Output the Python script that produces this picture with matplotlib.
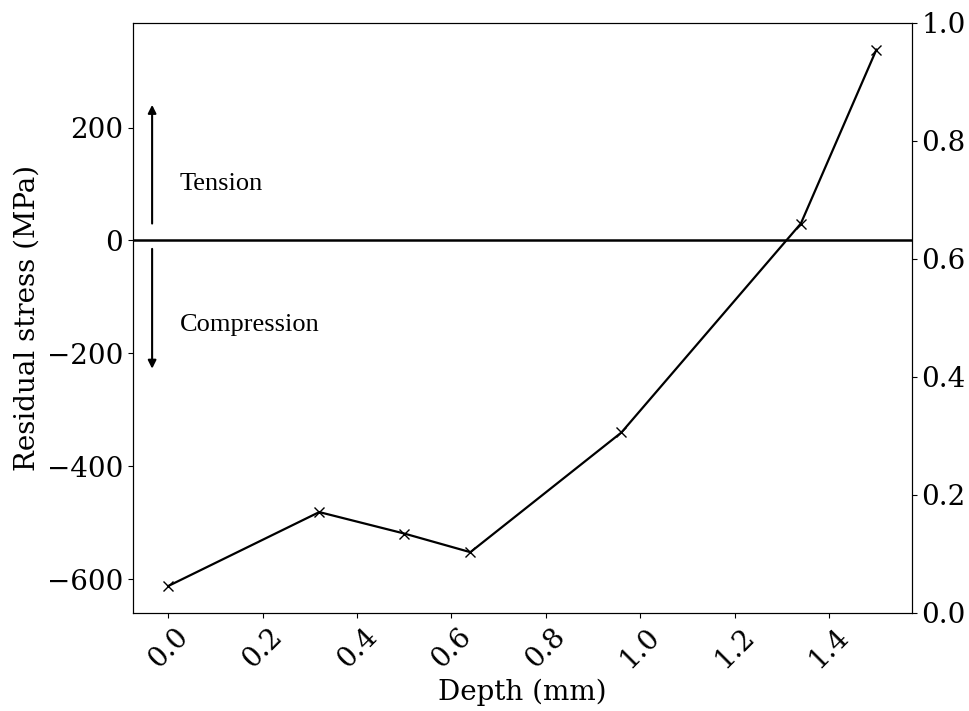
import matplotlib
matplotlib.use("Agg")
import matplotlib.pyplot as plt
import numpy as np

depth = [0.0, 0.32, 0.5, 0.64, 0.96, 1.34, 1.5]
stress = [-612, -481, -519, -552, -340, 30, 338]

plt.rcParams["font.family"] = "DejaVu Serif"
plt.rcParams["font.size"] = 20

fig = plt.figure(figsize=(9.69, 7.11), dpi=100)
ax = fig.add_axes([0.137, 0.138, 0.804, 0.830])
ax.plot(depth, stress, color="black", marker="x", markersize=7, linewidth=1.6)
ax.axhline(0, color="black", linewidth=1.8)

# tension / compression arrows near the left edge
ax.annotate("", xy=(-0.034, 245), xytext=(-0.034, 25),
            arrowprops=dict(arrowstyle="-|>", color="black", lw=1.5, mutation_scale=12))
ax.annotate("", xy=(-0.034, -232), xytext=(-0.034, -10),
            arrowprops=dict(arrowstyle="-|>", color="black", lw=1.5, mutation_scale=12))
ax.text(0.025, 100, "Tension", family="Liberation Serif", fontsize=19, va="center")
ax.text(0.025, -150, "Compression", family="Liberation Serif", fontsize=19, va="center")

ax.set_xlabel("Depth (mm)")
ax.set_ylabel("Residual stress (MPa)")
ax.set_yticks([-600, -400, -200, 0, 200])
plt.setp(ax.get_xticklabels(), rotation=45)

ax2 = ax.twinx()
ax2.set_ylim(0, 1)

fig.savefig("out.png", dpi=100)
